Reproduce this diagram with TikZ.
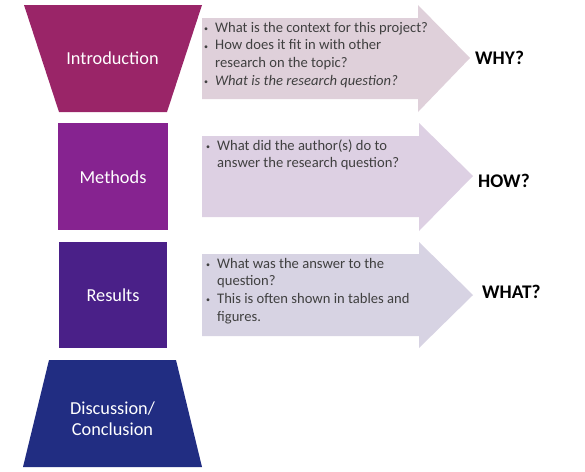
\documentclass[tikz,border=0pt]{standalone}
\usepackage{fontspec}
\setmainfont{Carlito}
\definecolor{introC}{HTML}{9A2568}
\definecolor{methC}{HTML}{862390}
\definecolor{resC}{HTML}{4A2088}
\definecolor{discC}{HTML}{212D82}
\definecolor{arrA}{HTML}{DFD0DA}
\definecolor{arrB}{HTML}{DDD0E3}
\definecolor{arrC}{HTML}{D7D3E3}
\definecolor{bodyC}{HTML}{404040}
\tikzset{
  label/.style={text=white, font=\fontsize{18.3}{21}\selectfont, align=center, inner sep=0pt},
  bullets/.style={text=bodyC, anchor=north west, inner sep=0pt, font=\fontsize{14.6}{17.7}\selectfont},
  answer/.style={text=black, font=\bfseries\fontsize{19.3}{22}\selectfont, anchor=west, inner sep=0pt}
}
\newcommand{\bl}{\makebox[11pt][l]{\raisebox{0.5pt}{\footnotesize\textbullet}}}
\begin{document}
\begin{tikzpicture}[x=1pt,y=-1pt]
\useasboundingbox (0,0) rectangle (585,471);
% left shapes
\fill[introC] (24,5) -- (202,5) -- (167,112) -- (59,112) -- cycle;
\fill[methC] (58,123) rectangle (168,230);
\fill[resC] (59,242) rectangle (167,348);
\fill[discC] (49,360) -- (176,360) -- (202,467) -- (23,467) -- cycle;
\node[label] (intro) at (112.5,58) {Introduction};
\node[label] (meth) at (113,177) {Methods};
\node[label] (res) at (113,295) {Results};
\node[label] (disc) at (112.5,419) {Discussion/\\Conclusion};
% arrows
\fill[arrA] (202,18) -- (418,18) -- (418,5) -- (470,58) -- (418,112) -- (418,99) -- (202,99) -- cycle;
\fill[arrB] (202,136) -- (419,136) -- (419,123) -- (473,176) -- (419,231) -- (419,217) -- (202,217) -- cycle;
\fill[arrC] (202,254) -- (419,254) -- (419,242) -- (473,295) -- (419,348) -- (419,336) -- (202,336) -- cycle;
% texts
\node[bullets] (t1) at (204,19.5) {\begin{tabular}{@{}l@{}l@{}}
\bl & What is the context for this project?\\
\bl & How does it fit in with other\\
 & research on the topic?\\
\bl & \itshape What is the research question?
\end{tabular}};
\node[bullets] (t2) at (206,137.5) {\begin{tabular}{@{}l@{}l@{}}
\bl & What did the author(s) do to\\
 & answer the research question?
\end{tabular}};
\node[bullets] (t3) at (206,255.5) {\begin{tabular}{@{}l@{}l@{}}
\bl & What was the answer to the\\
 & question?\\
\bl & This is often shown in tables and\\
 & figures.
\end{tabular}};
\node[answer] (why) at (475,58) {WHY?};
\node[answer] (how) at (478,181) {HOW?};
\node[answer] (what) at (482,292) {WHAT?};
\end{tikzpicture}
\end{document}
